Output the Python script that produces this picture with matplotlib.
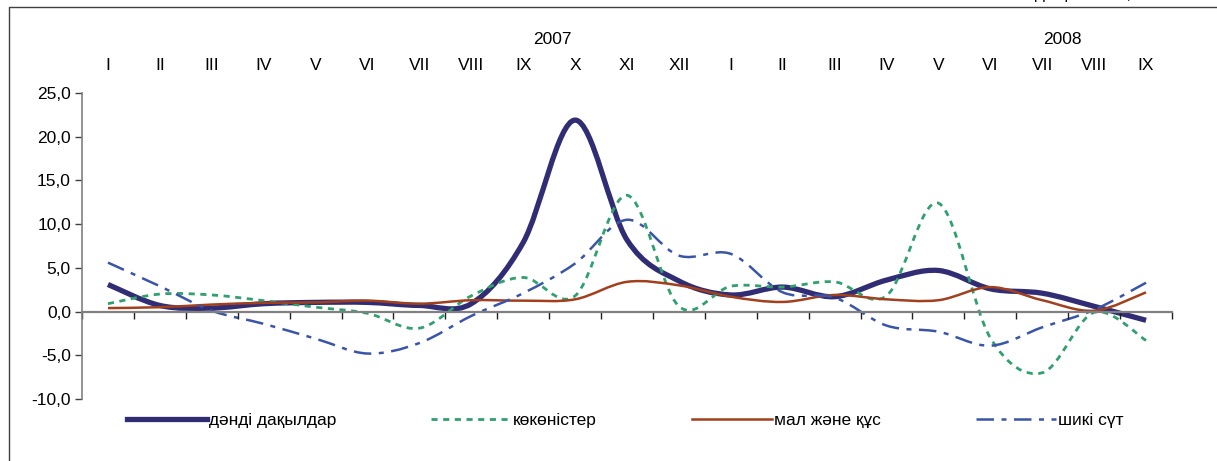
import numpy as np
import matplotlib
matplotlib.use("Agg")
import matplotlib.pyplot as plt
from matplotlib.path import Path
from matplotlib.patches import PathPatch
from matplotlib.lines import Line2D
from matplotlib.ticker import FuncFormatter
from matplotlib.transforms import blended_transform_factory

plt.rcParams['font.family'] = ['Liberation Sans', 'DejaVu Sans']

months = ['I', 'II', 'III', 'IV', 'V', 'VI', 'VII', 'VIII', 'IX', 'X', 'XI', 'XII',
          'I', 'II', 'III', 'IV', 'V', 'VI', 'VII', 'VIII', 'IX']
years = ['2007', '2008']
year_pos = [9.06, 18.88]

grain = [3.1, 0.7, 0.4, 0.9, 1.05, 1.05, 0.7, 0.9, 7.9, 21.9, 8.2, 3.5,
         1.9, 2.8, 1.7, 3.6, 4.7, 2.6, 2.1, 0.6, -1.0]
veg = [0.9, 2.0, 1.9, 1.25, 0.5, -0.2, -1.9, 1.8, 3.9, 1.8, 13.3, 0.6,
       2.9, 2.8, 3.4, 1.8, 12.4, -3.0, -7.0, -0.1, -3.3]
meat = [0.4, 0.5, 0.8, 1.0, 1.05, 1.25, 0.9, 1.3, 1.25, 1.4, 3.4, 3.0,
        1.7, 1.1, 1.9, 1.4, 1.3, 2.8, 1.3, 0.1, 2.2]
milk = [5.6, 2.9, 0.1, -1.4, -3.1, -4.8, -3.6, -0.5, 2.1, 5.5, 10.5, 6.4,
        6.6, 2.2, 1.6, -1.6, -2.3, -3.9, -1.8, 0.2, 3.3]

labels = ['дәнді дақылдар', 'көкөністер', 'мал және құс', 'шикі сүт']
colors = ['#302D74', '#2FA06E', '#A2401E', '#3A55A8']
widths = [3.8, 2.0, 1.8, 1.8]
styles = ['-', (0, (2.2, 2.0)), '-', (0, (7, 3, 2, 3))]


def smooth_path(y):
    # excel-like smoothed line: catmull-rom drawn as cubic bezier segments
    pts = np.column_stack([np.arange(len(y)) + 0.5, y])
    n = len(pts)
    verts = [pts[0]]
    codes = [Path.MOVETO]
    for i in range(n - 1):
        p0 = pts[max(i - 1, 0)]
        p1 = pts[i]
        p2 = pts[i + 1]
        p3 = pts[min(i + 2, n - 1)]
        verts += [p1 + (p2 - p0) / 6, p2 - (p3 - p1) / 6, p2]
        codes += [Path.CURVE4] * 3
    return Path(verts, codes)


W, H = 1217, 461
fig = plt.figure(figsize=(W / 100, H / 100), dpi=100)
ax = fig.add_axes([82 / W, 1 - 399 / H, (1172 - 82) / W, (399 - 93) / H])

for s, c, w, ls in zip([grain, veg, meat, milk], colors, widths, styles):
    ax.add_patch(PathPatch(smooth_path(s), fill=False, edgecolor=c, lw=w,
                           linestyle=ls, capstyle='butt', joinstyle='round'))

ax.set_xlim(0, len(months))
ax.set_ylim(-10, 25)
ax.set_yticks(np.arange(-10, 26, 5))
ax.yaxis.set_major_formatter(FuncFormatter(lambda v, p: f'{v:.1f}'.replace('.', ',')))
ax.set_xticks(np.arange(0, len(months) + 1))
ax.set_xticklabels([])
ax.spines['bottom'].set_position(('data', 0))
for k in ['top', 'right']:
    ax.spines[k].set_visible(False)
ax.spines['bottom'].set_color('#808080')
ax.spines['bottom'].set_linewidth(1.6)
ax.spines['left'].set_color('#808080')
ax.spines['left'].set_linewidth(1.2)
ax.tick_params(axis='y', direction='out', length=5, width=1, colors='#404040',
               labelcolor='black', labelsize=12.5, pad=3)
ax.tick_params(axis='x', direction='out', length=5, width=1, colors='#202020')

tr = blended_transform_factory(ax.transData, fig.transFigure)
for i, m in enumerate(months):
    ax.text(i + 0.5, 1 - 65 / H, m, transform=tr, ha='center', va='center', fontsize=12.5)
for yr, xp in zip(years, year_pos):
    ax.text(xp, 1 - 40 / H, yr, transform=tr, ha='center', va='center', fontsize=12.5)

handles = [Line2D([], [], color=c, lw=w, linestyle=ls)
           for c, w, ls in zip(colors, widths, styles)]
fs = 12.5
px = fs * 100 / 72
ax.legend(handles, labels, ncol=4, loc='center left',
          bbox_to_anchor=(127 / W, 1 - 420 / H), bbox_transform=fig.transFigure,
          frameon=False, fontsize=fs, handlelength=80 / px, handletextpad=2 / px,
          columnspacing=95 / px, borderpad=0, borderaxespad=0)

fig.add_artist(Line2D([9 / W, 9 / W, 1], [0, 1 - 7 / H, 1 - 7 / H],
                      transform=fig.transFigure, color='#404040', lw=1))
# heading above the frame, cut off by the page edge as in the source
fig.text(1214 / W, 1 + 1 / H, 'алдыңғы айға, пайызбен', ha='right',
         va='baseline', fontsize=12.5)

fig.savefig('out.png', dpi=100)
